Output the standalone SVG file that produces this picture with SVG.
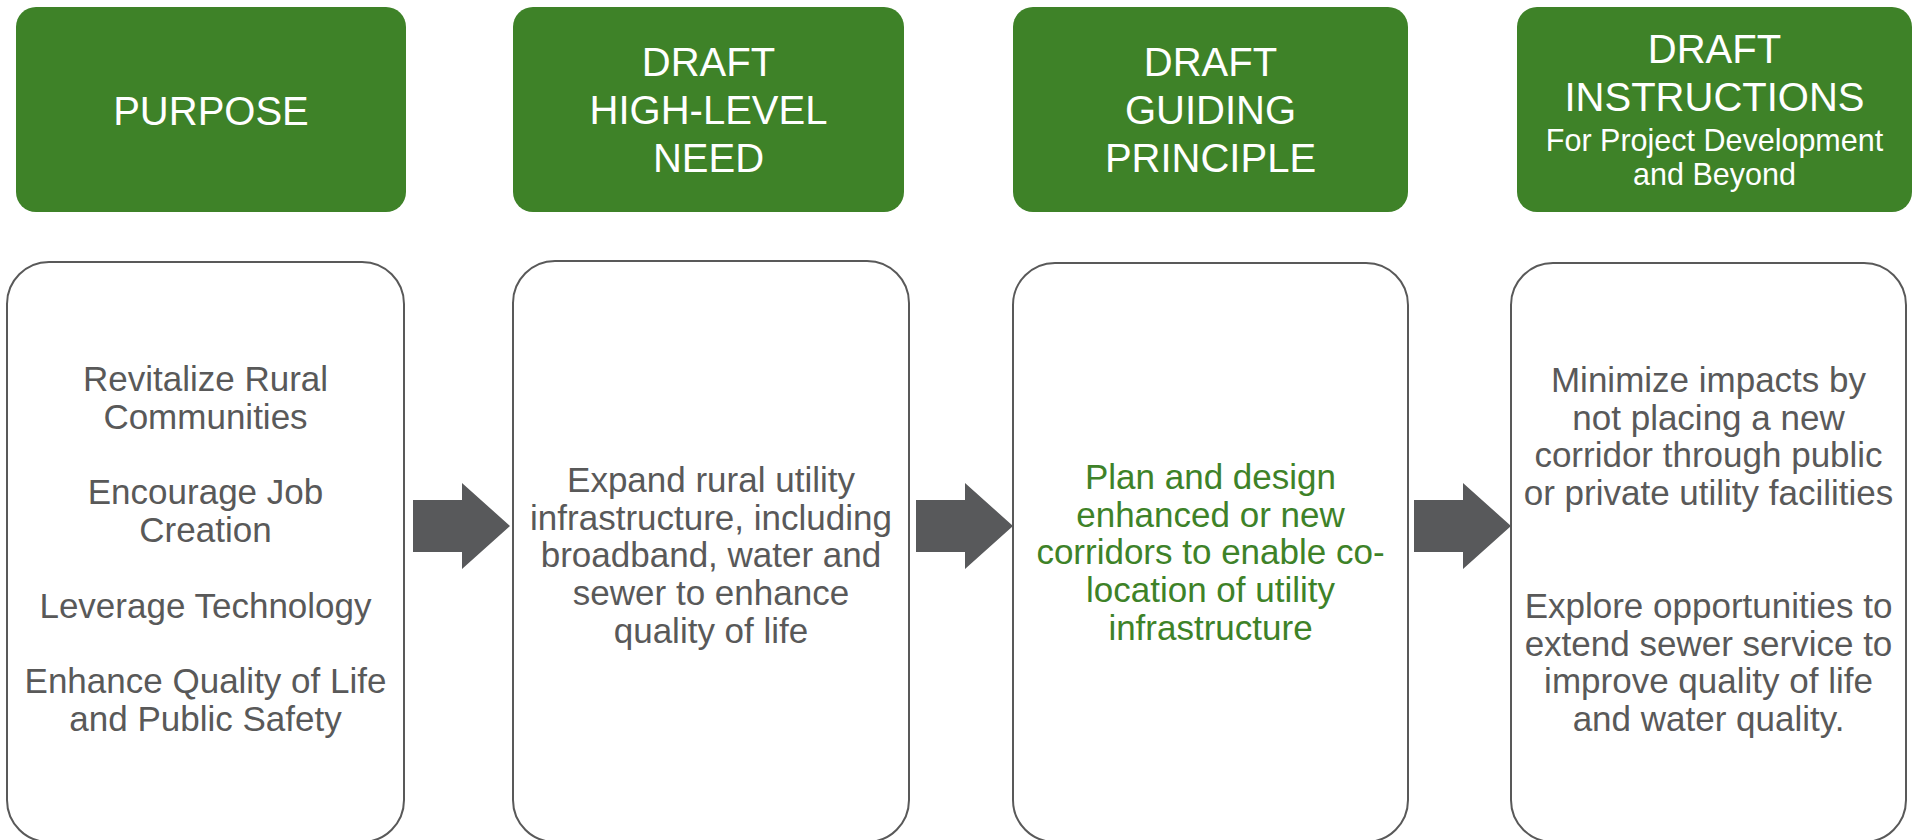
<svg xmlns="http://www.w3.org/2000/svg" width="1920" height="840" viewBox="0 0 1920 840">
<style>
.hdr{fill:#3e8228;}
.hdrt{fill:#ffffff;font-family:"Liberation Sans",Arial,sans-serif;font-size:40px;text-anchor:middle;}
.sub{font-size:30.5px;}
.body{fill:#ffffff;stroke:#595959;stroke-width:2;}
.bt{fill:#595959;font-family:"Liberation Sans",Arial,sans-serif;font-size:35px;text-anchor:middle;}
.gt{fill:#3e8228;}
.arr{fill:#58595b;}
</style>
<rect width="1920" height="840" fill="#ffffff"/>
<g id="header-purpose">
<rect class="hdr" x="16" y="7" width="390" height="205" rx="20"/>
<text class="hdrt" x="211" y="125">PURPOSE</text>
</g>
<g id="header-need">
<rect class="hdr" x="513" y="7" width="391" height="205" rx="20"/>
<text class="hdrt" x="708.5" y="76">DRAFT</text>
<text class="hdrt" x="708.5" y="124">HIGH-LEVEL</text>
<text class="hdrt" x="708.5" y="172">NEED</text>
</g>
<g id="header-principle">
<rect class="hdr" x="1013" y="7" width="395" height="205" rx="20"/>
<text class="hdrt" x="1210.5" y="76">DRAFT</text>
<text class="hdrt" x="1210.5" y="124">GUIDING</text>
<text class="hdrt" x="1210.5" y="172">PRINCIPLE</text>
</g>
<g id="header-instructions">
<rect class="hdr" x="1517" y="7" width="395" height="205" rx="20"/>
<text class="hdrt" x="1714.5" y="63">DRAFT</text>
<text class="hdrt" x="1714.5" y="111">INSTRUCTIONS</text>
<text class="hdrt sub" x="1714.5" y="151">For Project Development</text>
<text class="hdrt sub" x="1714.5" y="185">and Beyond</text>
</g>
<g id="body-purpose">
<rect class="body" x="7" y="262" width="397" height="580" rx="42"/>
<text class="bt" x="205.5" y="391">Revitalize Rural</text>
<text class="bt" x="205.5" y="428.7">Communities</text>
<text class="bt" x="205.5" y="504">Encourage Job</text>
<text class="bt" x="205.5" y="541.8">Creation</text>
<text class="bt" x="205.5" y="617.5">Leverage Technology</text>
<text class="bt" x="205.5" y="693">Enhance Quality of Life</text>
<text class="bt" x="205.5" y="730.6">and Public Safety</text>
</g>
<g id="body-need">
<rect class="body" x="513" y="261" width="396" height="581" rx="42"/>
<text class="bt" x="711" y="492">Expand rural utility</text>
<text class="bt" x="711" y="529.7">infrastructure, including</text>
<text class="bt" x="711" y="567.4">broadband, water and</text>
<text class="bt" x="711" y="605">sewer to enhance</text>
<text class="bt" x="711" y="642.8">quality of life</text>
</g>
<g id="body-principle">
<rect class="body" x="1013" y="263" width="395" height="579" rx="42"/>
<text class="bt gt" x="1210.5" y="489">Plan and design</text>
<text class="bt gt" x="1210.5" y="526.7">enhanced or new</text>
<text class="bt gt" x="1210.5" y="564.4">corridors to enable co-</text>
<text class="bt gt" x="1210.5" y="602">location of utility</text>
<text class="bt gt" x="1210.5" y="639.8">infrastructure</text>
</g>
<g id="body-instructions">
<rect class="body" x="1511" y="263" width="395" height="579" rx="42"/>
<text class="bt" x="1708.5" y="392">Minimize impacts by</text>
<text class="bt" x="1708.5" y="429.7">not placing a new</text>
<text class="bt" x="1708.5" y="467.4">corridor through public</text>
<text class="bt" x="1708.5" y="505">or private utility facilities</text>
<text class="bt" x="1708.5" y="618">Explore opportunities to</text>
<text class="bt" x="1708.5" y="655.7">extend sewer service to</text>
<text class="bt" x="1708.5" y="693.4">improve quality of life</text>
<text class="bt" x="1708.5" y="731">and water quality.</text>
</g>
<g id="connectors">
<polygon class="arr" points="413,500 462,500 462,483 510,526 462,569 462,552 413,552"/>
<polygon class="arr" points="916,500 965,500 965,483 1013,526 965,569 965,552 916,552"/>
<polygon class="arr" points="1414,500 1463,500 1463,483 1511,526 1463,569 1463,552 1414,552"/>
</g>
</svg>
